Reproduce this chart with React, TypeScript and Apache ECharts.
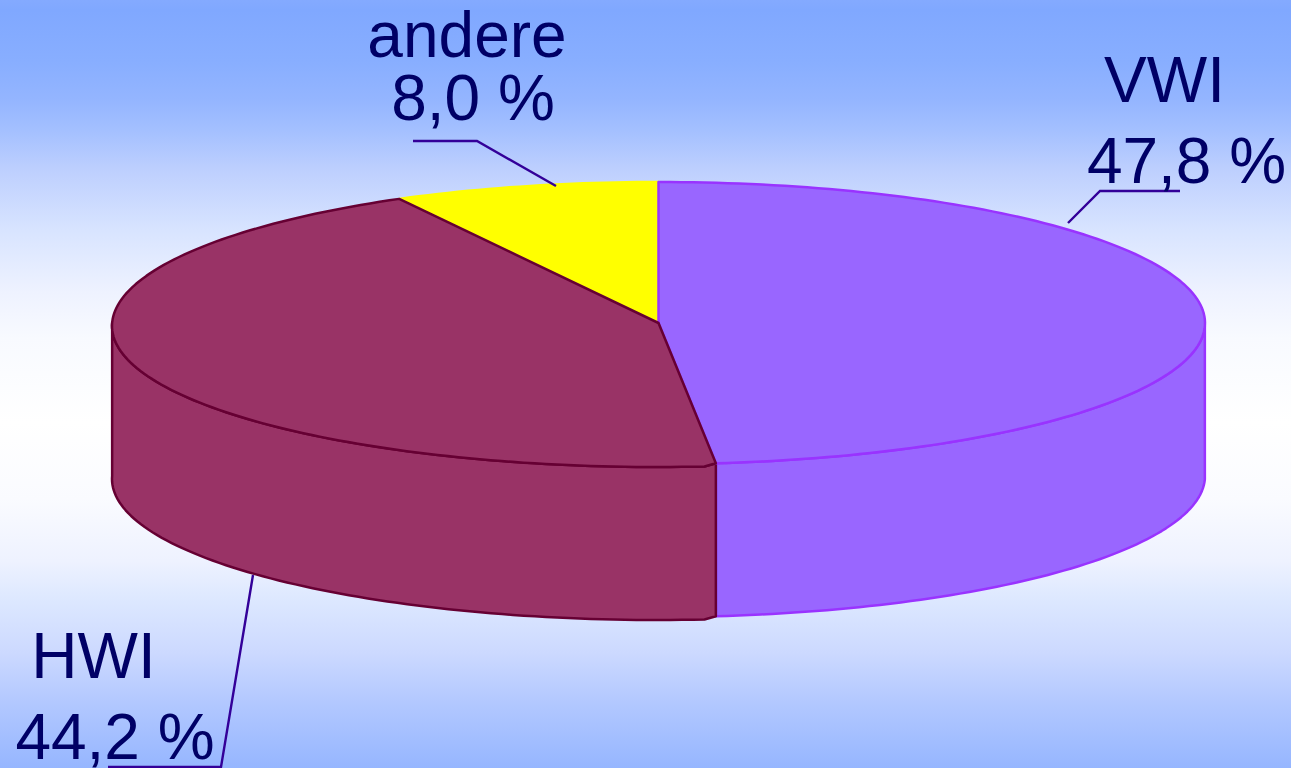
import React, { useEffect, useRef } from "react";
import * as echarts from "echarts";

const names = ["VWI", "HWI", "andere"];
const values = [47.8, 44.2, 8.0];
const fills = ["#9966ff", "#993366", "#ffff00"];
const strokes = ["#9933ff", "#660033", "#ffff00"];
const labelNameAt = [[1164.5, 80], [93.5, 656], [467, 35]];
const labelValueAt = [[1186.5, 161], [115, 737], [473, 98]];
const leaders = [
  [[1068, 223], [1100, 191], [1180, 191]],
  [[253, 575], [221, 767], [108, 767]],
  [[556, 186], [477, 141], [413, 141]],
];
const backgroundStops: [number, string][] = [
  [0, "#84aaff"],
  [0.013, "#80a8ff"],
  [0.08, "#88aeff"],
  [0.13, "#94b5ff"],
  [0.17, "#a4c0ff"],
  [0.22, "#bdcffe"],
  [0.3, "#d8e4ff"],
  [0.38, "#eef2ff"],
  [0.44, "#f8faff"],
  [0.55, "#ffffff"],
  [0.65, "#fafbff"],
  [0.73, "#eef2ff"],
  [0.78, "#dde8ff"],
  [0.85, "#ccd9ff"],
  [0.91, "#b4c9ff"],
  [1, "#96b6ff"],
];

const CX = 658.5;
const CY = 323;
const RX = 546.5;
const RY = 141;
const DEPTH = 153;
const HWI_DROP = 3;
const TEXT = "#000066";
const LEADER = "#330099";
const FONT = '"Liberation Sans", Arial, sans-serif';

const total = values.reduce((a, b) => a + b, 0);
// slight perspective warp of the drawn angle, as in the source picture
const warp = (deg: number) => deg + 1.9 * Math.sin((deg * Math.PI) / 360);
const pt = (deg: number, dy = 0): number[] => {
  const r = (warp(deg) * Math.PI) / 180;
  return [CX + RX * Math.sin(r), CY - RY * Math.cos(r) + dy];
};
// the second slice sits a few pixels lower along its front edge
const dropAt = (i: number, deg: number, a0: number, a1: number) =>
  i === 1 ? HWI_DROP * Math.max(0, Math.min(1, (deg - a0) / 1.2, (a1 - deg) / 60)) : 0;
const arc = (i: number, range: number[], a: number, b: number, dy = 0): number[][] => {
  const pts: number[][] = [];
  const step = 1.2;
  const n = Math.max(2, Math.ceil(Math.abs(b - a) / step));
  for (let k = 0; k <= n; k++) {
    const deg = a + ((b - a) * k) / n;
    pts.push(pt(deg, dy + dropAt(i, deg, range[0], range[1])));
  }
  return pts;
};

function renderItem(_params: any, api: any) {
  const i = api.value(0) as number;
  const before = values.slice(0, i).reduce((a, b) => a + b, 0);
  const a0 = (before / total) * 360;
  const a1 = ((before + values[i]) / total) * 360;
  const range = [a0, a1];
  const style = { fill: fills[i], stroke: strokes[i], lineWidth: 2.5, lineJoin: "round" };
  const children: any[] = [];

  // rim: only the part of the slice facing the viewer (90deg..270deg)
  const s0 = Math.max(a0, 90);
  const s1 = Math.min(a1, 270);
  if (s1 > s0) {
    children.push({
      type: "polygon",
      z2: i === 1 ? 3 : 2,
      shape: { points: [...arc(i, range, s0, s1), ...arc(i, range, s1, s0, DEPTH)] },
      style,
    });
  }
  // top face
  children.push({
    type: "polygon",
    z2: i === 2 ? 1 : 4,
    shape: { points: [[CX, CY], ...arc(i, range, a0, a1)] },
    style,
  });
  // leader line
  children.push({
    type: "polyline",
    z2: 5,
    shape: { points: leaders[i] },
    style: { fill: "none", stroke: LEADER, lineWidth: 2.4 },
  });
  // labels
  const text = (t: string, at: number[]) => ({
    type: "text",
    z2: 6,
    style: {
      text: t,
      x: at[0],
      y: at[1],
      align: "center",
      verticalAlign: "middle",
      fontFamily: FONT,
      fontSize: 64,
      lineHeight: 58,
      fill: TEXT,
    },
  });
  children.push(text(names[i], labelNameAt[i]));
  children.push(text(values[i].toFixed(1).replace(".", ",") + " %", labelValueAt[i]));
  return { type: "group", children };
}

export default function App() {
  const ref = useRef<HTMLDivElement>(null);
  useEffect(() => {
    document.body.style.margin = "0";
    document.body.style.overflow = "hidden";
    const chart = echarts.init(ref.current!, undefined, { renderer: "svg" });
    chart.setOption({
      animation: false,
      backgroundColor: {
        type: "linear",
        x: 0,
        y: 0,
        x2: 0,
        y2: 1,
        colorStops: backgroundStops.map(([offset, color]) => ({ offset, color })),
      },
      tooltip: { show: false },
      series: [
        {
          type: "custom",
          coordinateSystem: "none",
          silent: true,
          renderItem,
          data: names.map((n, i) => ({ name: n, value: [i, values[i]] })),
        },
      ],
    });
    return () => chart.dispose();
  }, []);
  return <div ref={ref} style={{ width: 1291, height: 768 }} />;
}
